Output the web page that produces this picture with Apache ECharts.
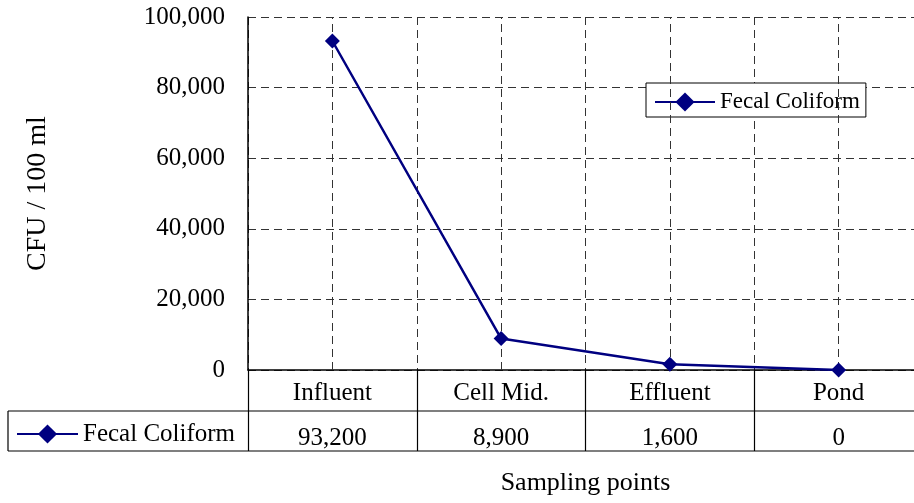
<!DOCTYPE html>
<html>
<head>
<meta charset="utf-8">
<style>
  html, body { margin: 0; padding: 0; background: #fff; overflow: hidden; }
  /* the plot's right border sits just past the visible edge */
  #chart { width: 930px; height: 503px; }
</style>
<script src="https://cdn.jsdelivr.net/npm/echarts@6/dist/echarts.min.js"></script>
</head>
<body>
<div id="chart"></div>
<script>
// Fecal coliform counts at each sampling point (CFU / 100 ml)
const categories = ['Influent', 'Cell Mid.', 'Effluent', 'Pond'];
const fecalColiform = [93200, 8900, 1600, 0];
const seriesName = 'Fecal Coliform';
const yTicks = [0, 20000, 40000, 60000, 80000, 100000];

const FONT = '"Liberation Serif", "DejaVu Serif", serif';
const NAVY = '#000080';

// plot area and data-table layout
const G = { left: 248, top: 17, width: 675, height: 353 };
const ROW1 = 41;   // category row height
const ROW2 = 40;   // value row height
const TABLE_LEFT = 8;

const fmt = v => v.toLocaleString('en-US');

const chart = echarts.init(document.getElementById('chart'), null, { renderer: 'canvas' });

const gridBottom = G.top + G.height;
const row1Bottom = gridBottom + ROW1;
const row2Bottom = row1Bottom + ROW2;
const gridRight = G.left + G.width;

chart.setOption({
  animation: false,
  backgroundColor: '#fff',
  textStyle: { fontFamily: FONT, color: '#000' },
  grid: { left: G.left, top: G.top, width: G.width, height: G.height, containLabel: false },
  legend: [
    {
      data: [seriesName],
      left: 646, top: 83,
      orient: 'horizontal',
      backgroundColor: '#fff',
      borderColor: '#000', borderWidth: 1,
      padding: [6, 6, 2, 8],
      itemWidth: 60, itemHeight: 24, itemGap: 6,
      textStyle: { fontFamily: FONT, fontSize: 23, color: '#000', lineHeight: 26 }
    },
    {
      data: [seriesName],
      left: TABLE_LEFT, top: row1Bottom + 10,
      padding: [0, 0, 0, 8],
      itemWidth: 61, itemHeight: 24, itemGap: 6,
      textStyle: { fontFamily: FONT, fontSize: 25, color: '#000', lineHeight: 26 },
      selectedMode: false
    }
  ],
  xAxis: [
    {
      type: 'category',
      data: categories,
      boundaryGap: true,
      axisLine: { show: true, lineStyle: { color: '#000', width: 1.5 } },
      axisTick: { show: true, length: ROW1 + ROW2, lineStyle: { color: '#000', width: 1.2 } },
      axisLabel: { margin: 11, fontFamily: FONT, fontSize: 25, color: '#000' },
      splitLine: { show: true, lineStyle: { color: '#333', type: [8, 5], width: 1 } }
    },
    {
      type: 'category',
      data: categories,
      boundaryGap: true,
      position: 'bottom',
      offset: ROW1,
      axisLine: { show: false },
      axisTick: { show: false },
      axisLabel: {
        margin: 15, fontFamily: FONT, fontSize: 25, color: '#000',
        formatter: (v, i) => fmt(fecalColiform[i])
      },
      name: 'Sampling points',
      nameLocation: 'middle',
      nameGap: 59,
      nameTextStyle: { fontFamily: FONT, fontSize: 26, color: '#000' }
    }
  ],
  yAxis: {
    type: 'value',
    min: yTicks[0],
    max: yTicks[yTicks.length - 1],
    interval: yTicks[1] - yTicks[0],
    name: 'CFU / 100 ml',
    nameLocation: 'middle',
    nameRotate: 90,
    nameGap: 196,
    nameTextStyle: { fontFamily: FONT, fontSize: 28, color: '#000' },
    axisLine: { show: true, lineStyle: { color: '#000', width: 1.5 } },
    axisTick: { show: false },
    axisLabel: { margin: 23, fontFamily: FONT, fontSize: 25, color: '#000', formatter: fmt },
    splitLine: { show: true, lineStyle: { color: '#333', type: [8, 5], width: 1 } }
  },
  series: [
    {
      name: seriesName,
      type: 'line',
      data: fecalColiform,
      symbol: 'diamond',
      symbolSize: 15,
      color: NAVY,
      lineStyle: { color: NAVY, width: 2.5 },
      itemStyle: { color: NAVY },
      z: 5,
      markLine: {
        silent: true,
        symbol: 'none',
        label: { show: false },
        lineStyle: { color: '#333', type: [8, 5], width: 1 },
        data: categories.map(c => ({ xAxis: c }))
      }
    }
  ],
  graphic: [
    // frame of the data table below the category axis
    { type: 'line', silent: true, shape: { x1: TABLE_LEFT, y1: row1Bottom, x2: gridRight, y2: row1Bottom },
      style: { stroke: '#000', lineWidth: 1.2 } },
    { type: 'line', silent: true, shape: { x1: TABLE_LEFT, y1: row2Bottom, x2: gridRight, y2: row2Bottom },
      style: { stroke: '#000', lineWidth: 1.2 } },
    { type: 'line', silent: true, shape: { x1: TABLE_LEFT, y1: row1Bottom, x2: TABLE_LEFT, y2: row2Bottom },
      style: { stroke: '#000', lineWidth: 1.2 } }
  ]
});
</script>
</body>
</html>
